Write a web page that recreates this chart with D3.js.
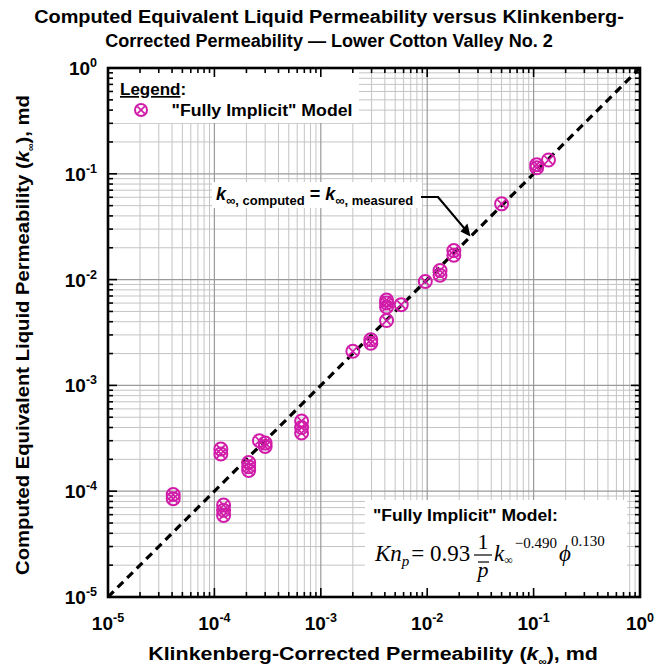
<!DOCTYPE html>
<html>
<head>
<meta charset="utf-8">
<script src="https://cdn.jsdelivr.net/npm/d3@7"></script>
<style>
  html, body { margin: 0; padding: 0; background: #fff; }
  svg { display: block; font-family: "Liberation Sans", Arial, sans-serif; }
</style>
</head>
<body>
<svg id="chart" width="657" height="671"></svg>
<script>
// Klinkenberg-corrected (measured) permeability, md
const kMeasured = [
  4.1e-5, 4.1e-5,
  1.15e-4, 1.15e-4,
  1.22e-4, 1.22e-4, 1.22e-4,
  2.1e-4, 2.1e-4, 2.1e-4,
  2.65e-4, 3.0e-4, 3.0e-4,
  6.6e-4, 6.6e-4, 6.6e-4,
  2.0e-3, 2.95e-3, 2.95e-3,
  4.15e-3, 4.15e-3, 4.15e-3, 4.15e-3,
  5.7e-3, 9.6e-3,
  1.32e-2, 1.32e-2,
  1.78e-2, 1.78e-2,
  5.0e-2,
  0.107, 0.107, 0.138
];
// Computed equivalent liquid permeability, "Fully Implicit" model, md
const kComputed = [
  9.3e-5, 8.5e-5,
  2.5e-4, 2.25e-4,
  7.4e-5, 6.6e-5, 5.9e-5,
  1.87e-4, 1.7e-4, 1.57e-4,
  3.0e-4, 2.85e-4, 2.65e-4,
  4.6e-4, 4.0e-4, 3.55e-4,
  2.1e-3, 2.7e-3, 2.5e-3,
  6.4e-3, 6.0e-3, 5.5e-3, 4.1e-3,
  5.8e-3, 9.6e-3,
  1.22e-2, 1.1e-2,
  1.88e-2, 1.7e-2,
  5.2e-2,
  0.122, 0.114, 0.135
];
const decadeTicks = [1e-5, 1e-4, 1e-3, 1e-2, 1e-1, 1];
const decadeExponents = ["-5", "-4", "-3", "-2", "-1", "0"];
const unityLine = [1e-5, 1];

const titleLines = [
  "Computed Equivalent Liquid Permeability versus Klinkenberg-",
  "Corrected Permeability \u2014 Lower Cotton Valley No. 2"
];

const MAGENTA = "#d11ca9";
const svg = d3.select("#chart");

const x = d3.scaleLog().domain([1e-5, 1]).range([108, 640]);
const y = d3.scaleLog().domain([1e-5, 1]).range([597, 68]);
const [x0, x1] = x.range();
const [y0, y1] = y.range();

// minor values 2..9 in every decade
const minorVals = [];
for (let e = -5; e < 0; e++) for (let m = 2; m <= 9; m++) minorVals.push(m * Math.pow(10, e));

// text placed at (cx, cy), centred, and stretched along its run to a given width
function wideText(parent, cx, cy, width, rotate, build) {
  const g = parent.append("g").attr("transform", `translate(${cx},${cy}) rotate(${rotate})`);
  const t = g.append("text").attr("text-anchor", "middle").attr("font-weight", "bold");
  build(t);
  const w = t.node().getBBox().width;
  t.attr("transform", `scale(${width / w},1)`);
  return t;
}

// ---- grid ----
const grid = svg.append("g");
grid.selectAll(".gxm").data(minorVals).join("line")
  .attr("x1", d => x(d)).attr("x2", d => x(d)).attr("y1", y0).attr("y2", y1)
  .attr("stroke", "#c4c4c4").attr("stroke-width", 1);
grid.selectAll(".gym").data(minorVals).join("line")
  .attr("y1", d => y(d)).attr("y2", d => y(d)).attr("x1", x0).attr("x2", x1)
  .attr("stroke", "#c4c4c4").attr("stroke-width", 1);
grid.selectAll(".gxM").data(decadeTicks).join("line")
  .attr("x1", d => x(d)).attr("x2", d => x(d)).attr("y1", y0).attr("y2", y1)
  .attr("stroke", "#9a9a9a").attr("stroke-width", 1.2);
grid.selectAll(".gyM").data(decadeTicks).join("line")
  .attr("y1", d => y(d)).attr("y2", d => y(d)).attr("x1", x0).attr("x2", x1)
  .attr("stroke", "#9a9a9a").attr("stroke-width", 1.2);

// ---- white panels behind legend, annotation and equation ----
svg.append("rect").attr("x", x0 + 1).attr("y", y1 + 1).attr("width", 250).attr("height", 54).attr("fill", "#fff");
svg.append("rect").attr("x", 212).attr("y", 182).attr("width", 210).attr("height", 26).attr("fill", "#fff");
svg.append("rect").attr("x", 365).attr("y", 500).attr("width", 262).attr("height", 94).attr("fill", "#fff");

// ---- unity line ----
svg.append("line")
  .attr("x1", x(unityLine[0])).attr("y1", y(unityLine[0]))
  .attr("x2", x(unityLine[1])).attr("y2", y(unityLine[1]))
  .attr("stroke", "#000").attr("stroke-width", 3.2)
  .attr("stroke-dasharray", "8,5.5");

// ---- markers: circle with an x ----
function marker(g, r) {
  const s = r * 0.62;
  g.append("circle").attr("r", r).attr("fill", "none").attr("stroke", MAGENTA).attr("stroke-width", 2);
  g.append("line").attr("x1", -s).attr("y1", -s).attr("x2", s).attr("y2", s).attr("stroke", MAGENTA).attr("stroke-width", 1.7);
  g.append("line").attr("x1", -s).attr("y1", s).attr("x2", s).attr("y2", -s).attr("stroke", MAGENTA).attr("stroke-width", 1.7);
}
const pts = d3.range(kMeasured.length).map(i => ({ kx: kMeasured[i], ky: kComputed[i] }));
svg.append("g").selectAll("g").data(pts).join("g")
  .attr("transform", d => `translate(${x(d.kx)},${y(d.ky)})`)
  .each(function () { marker(d3.select(this), 6.5); });

// ---- ticks on all four sides, pointing inward ----
const ticks = svg.append("g").attr("stroke", "#000").attr("stroke-width", 1.6);
const MAJ = 9, MIN = 5;
[[decadeTicks, MAJ], [minorVals, MIN]].forEach(([vals, len]) => {
  ticks.selectAll(null).data(vals).join("line")
    .attr("x1", d => x(d)).attr("x2", d => x(d)).attr("y1", y0).attr("y2", y0 - len);
  ticks.selectAll(null).data(vals).join("line")
    .attr("x1", d => x(d)).attr("x2", d => x(d)).attr("y1", y1).attr("y2", y1 + len);
  ticks.selectAll(null).data(vals).join("line")
    .attr("y1", d => y(d)).attr("y2", d => y(d)).attr("x1", x0).attr("x2", x0 + len);
  ticks.selectAll(null).data(vals).join("line")
    .attr("y1", d => y(d)).attr("y2", d => y(d)).attr("x1", x1).attr("x2", x1 - len);
});

// frame
svg.append("rect").attr("x", x0).attr("y", y1).attr("width", x1 - x0).attr("height", y0 - y1)
  .attr("fill", "none").attr("stroke", "#000").attr("stroke-width", 2.6);

// ---- tick labels: 10 with superscript exponent ----
function powLabel(sel) {
  sel.append("tspan").text("10");
  sel.append("tspan").attr("dy", -8).attr("font-size", 12.5).text((d, i) => decadeExponents[i]);
}
svg.append("g").selectAll("text").data(decadeTicks).join("text")
  .attr("x", d => x(d)).attr("y", 630)
  .attr("text-anchor", "middle").attr("font-size", 19).attr("font-weight", "bold")
  .call(powLabel);
svg.append("g").selectAll("text").data(decadeTicks).join("text")
  .attr("x", 97).attr("y", d => y(d) + 7)
  .attr("text-anchor", "end").attr("font-size", 19).attr("font-weight", "bold")
  .call(powLabel);

// ---- title ----
wideText(svg, 329, 23, 590, 0, t => t.attr("font-size", 19).text(titleLines[0]));
wideText(svg, 329, 47, 448, 0, t => t.attr("font-size", 19).text(titleLines[1]));

// ---- axis titles ----
function kInfLabel(t, before, after) {
  t.append("tspan").text(before);
  t.append("tspan").attr("font-style", "italic").text("k");
  t.append("tspan").attr("font-size", 10).attr("dy", 5).text("\u221E");
  t.append("tspan").attr("dy", -5).text(after);
}
wideText(svg, 373, 660, 450, 0, t => {
  t.attr("font-size", 18.5);
  kInfLabel(t, "Klinkenberg-Corrected Permeability (", "), md");
});
wideText(svg, 29, 335, 480, -90, t => {
  t.attr("font-size", 19);
  kInfLabel(t, "Computed Equivalent Liquid Permeability (", "), md");
});

// ---- legend ----
svg.append("text").attr("x", 120).attr("y", 95).attr("font-size", 17).attr("font-weight", "bold")
  .call(t => {
    t.append("tspan").attr("text-decoration", "underline").text("Legend");
    t.append("tspan").text(":");
  });
const lg = svg.append("g").attr("transform", "translate(141,110)");
marker(lg, 6);
wideText(svg, 262, 116, 181, 0, t => t.attr("font-size", 17).text("\"Fully Implicit\" Model"));

// ---- unity line annotation ----
const ann = svg.append("text").attr("x", 216).attr("y", 200).attr("font-weight", "bold").attr("font-size", 18);
ann.append("tspan").attr("font-style", "italic").text("k");
ann.append("tspan").attr("font-size", 13).attr("dy", 5).text("\u221E, computed");
ann.append("tspan").attr("dy", -5).text(" = ");
ann.append("tspan").attr("font-style", "italic").text("k");
ann.append("tspan").attr("font-size", 13).attr("dy", 5).text("\u221E, measured");

const tipX = x(0.0255), tipY = y(0.0255);
svg.append("path")
  .attr("d", `M421,197 L438,197 L${tipX - 5},${tipY - 7}`)
  .attr("fill", "none").attr("stroke", "#000").attr("stroke-width", 2.2);
svg.append("path")
  .attr("d", `M${tipX},${tipY} L${tipX - 10},${tipY - 5} L${tipX - 3},${tipY - 13} Z`)
  .attr("fill", "#000");

// ---- model equation ----
wideText(svg, 465.5, 521, 185, 0, t => t.attr("font-size", 16).text("\"Fully Implicit\" Model:"));
const eq = svg.append("g").attr("font-family", "'Liberation Serif', 'Times New Roman', serif");
const eqBase = 561;
const e1 = eq.append("text").attr("x", 375).attr("y", eqBase).attr("font-size", 23);
e1.append("tspan").attr("font-style", "italic").text("Kn");
e1.append("tspan").attr("font-style", "italic").attr("font-size", 15).attr("dy", 5).text("p");
e1.append("tspan").attr("dy", -5).attr("dx", 2).text("= 0.93");
// fraction 1 / p-bar
eq.append("text").attr("x", 483).attr("y", 549).attr("font-size", 22).attr("text-anchor", "middle").text("1");
eq.append("line").attr("x1", 474).attr("x2", 492).attr("y1", 555).attr("y2", 555).attr("stroke", "#000").attr("stroke-width", 1.2);
eq.append("text").attr("x", 483).attr("y", 577).attr("font-size", 22).attr("text-anchor", "middle").attr("font-style", "italic").text("p");
eq.append("line").attr("x1", 478).attr("x2", 489).attr("y1", 562).attr("y2", 562).attr("stroke", "#000").attr("stroke-width", 1.2);
const e2 = eq.append("text").attr("x", 494).attr("y", eqBase).attr("font-size", 23);
e2.append("tspan").attr("font-style", "italic").text("k");
e2.append("tspan").attr("font-size", 12).attr("dy", 3).text("\u221E");
e2.append("tspan").attr("font-size", 15).attr("dy", -16).attr("dx", 2).text("\u22120.490");
e2.append("tspan").attr("font-style", "italic").attr("dy", 13).attr("dx", 2).text("\u03D5");
e2.append("tspan").attr("font-size", 15).attr("dy", -15).text("0.130");
</script>
</body>
</html>
